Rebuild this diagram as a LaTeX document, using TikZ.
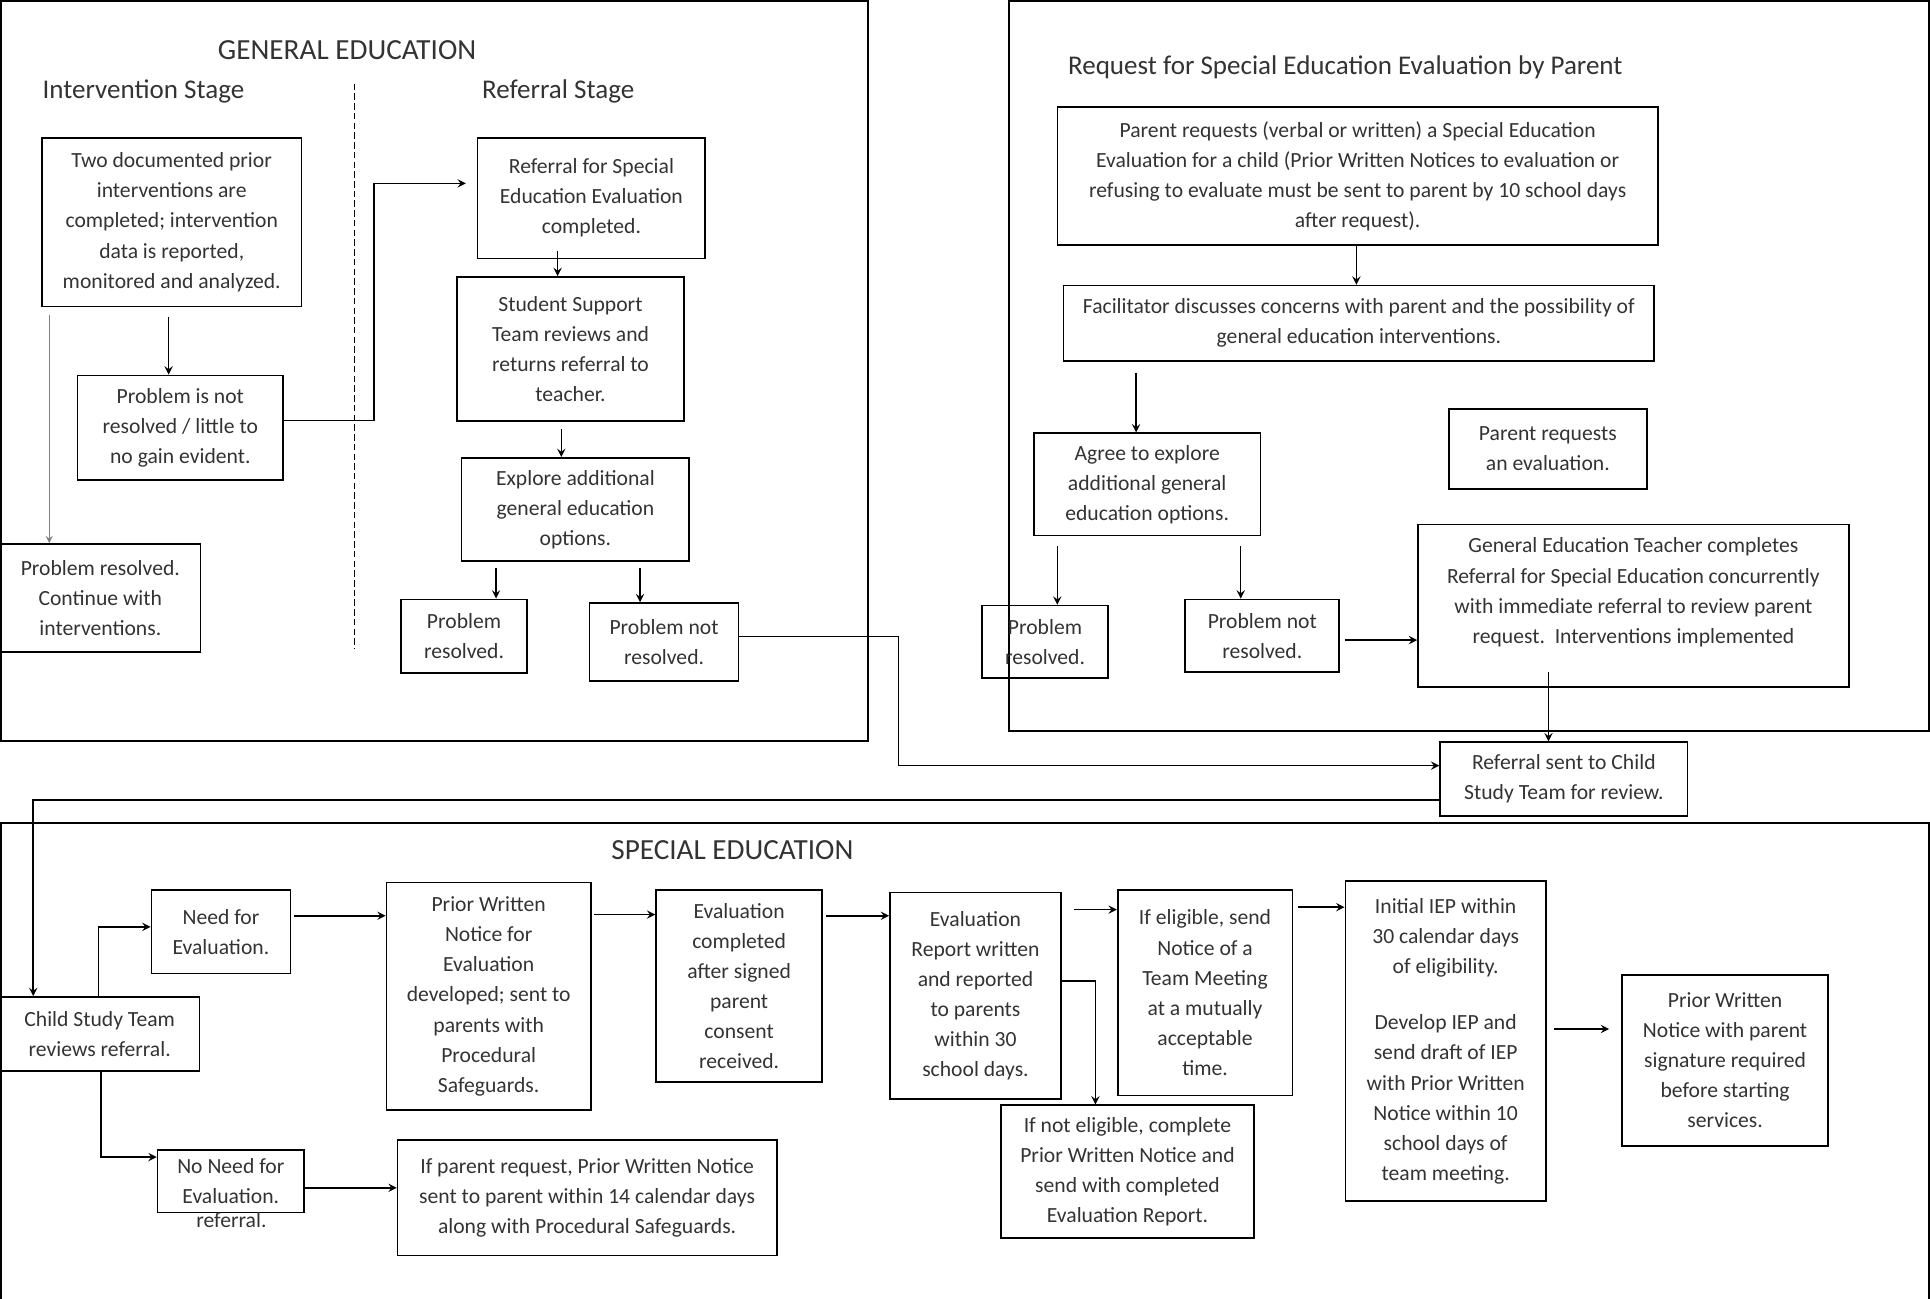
\documentclass[tikz,border=0pt]{standalone}
\usepackage{fontspec}
\setmainfont{Carlito}
\begin{document}
\begin{tikzpicture}[>=stealth,x=0.02cm,y=-0.02cm,line width=0.7pt,
  box/.style={draw,line width=0.8pt,align=center,inner sep=0pt,text=black!80,font=\fontsize{10}{13.9}\selectfont},
  head/.style={text=black!80,font=\fontsize{13.5}{16}\selectfont},
  subhead/.style={text=black!80,font=\fontsize{12.5}{15}\selectfont}]
\useasboundingbox (0,0) rectangle (1568,1055);
\draw[line width=0.9pt] (0.7,0.7) rectangle (705,602);
\draw[line width=0.9pt] (820,0.7) rectangle (1567.3,594);
\draw[line width=0.9pt] (0.7,1055) -- (0.7,669) -- (1567.3,669) -- (1567.3,1055);
\draw[dash pattern=on 3pt off 1.5pt] (288,68) -- (288,527);
\node[head] (gentitle) at (282,41) {GENERAL EDUCATION};
\node[subhead] (intstage) at (116.5,74) {Intervention Stage};
\node[subhead] (refstage) at (453.5,74) {Referral Stage};
\node[subhead] (partitle) at (1093,55) {Request for Special Education Evaluation by Parent};
\node[head] (spectitle) at (595,691) {SPECIAL EDUCATION};
\node[box,minimum width=4.22cm,minimum height=2.74cm] (two) at (139.5,180.5) {Two documented prior\\interventions are\\completed; intervention\\data is reported,\\monitored and analyzed.};
\node[box,minimum width=3.34cm,minimum height=1.70cm] (notres) at (146.5,347.5) {Problem is not\\resolved / little to\\no gain evident.};
\node[box,minimum width=3.26cm,minimum height=1.76cm] (contres) at (81.5,486) {Problem resolved.\\Continue with\\interventions.};
\node[box,minimum width=3.70cm,minimum height=1.96cm] (refse) at (480.5,161) {Referral for Special\\Education Evaluation\\completed.};
\node[box,minimum width=3.70cm,minimum height=2.34cm] (sst) at (463.5,283.5) {Student Support\\Team reviews and\\returns referral to\\teacher.};
\node[box,minimum width=3.70cm,minimum height=1.68cm] (explore) at (467.5,414) {Explore additional\\general education\\options.};
\node[box,minimum width=2.04cm,minimum height=1.20cm] (res1) at (377,517) {Problem\\resolved.};
\node[box,minimum width=2.42cm,minimum height=1.26cm] (notres1) at (539.5,521.5) {Problem not\\resolved.};
\node[box,minimum width=9.76cm,minimum height=2.24cm] (preq) at (1103,143) {Parent requests (verbal or written) a Special Education\\Evaluation for a child (Prior Written Notices to evaluation or\\refusing to evaluate must be sent to parent by 10 school days\\after request).};
\node[box,minimum width=9.60cm,minimum height=1.22cm] (facil) at (1104,262.5) {Facilitator discusses concerns with parent and the possibility of\\general education interventions.};
\node[box,minimum width=3.68cm,minimum height=1.66cm] (agree) at (932,393.5) {Agree to explore\\additional general\\education options.};
\node[box,minimum width=2.04cm,minimum height=1.18cm] (res2) at (849,521.5) {Problem\\resolved.};
\node[box,minimum width=2.50cm,minimum height=1.18cm] (notres2) at (1025.5,516.5) {Problem not\\resolved.};
\node[box,minimum width=3.22cm,minimum height=1.30cm] (parreq) at (1257.5,364.5) {Parent requests\\an evaluation.};
\node[box,minimum width=7.00cm,minimum height=2.64cm] (gened) at (1327,492) {General Education Teacher completes\\Referral for Special Education concurrently\\with immediate referral to review parent\\request.\ \ Interventions implemented\\\mbox{}};
\node[box,minimum width=4.02cm,minimum height=1.20cm] (csref) at (1270.5,633) {Referral sent to Child\\Study Team for review.};
\node[box,minimum width=3.24cm,minimum height=1.20cm] (cst) at (81,840) {Child Study Team\\reviews referral.};
\node[box,minimum width=2.26cm,minimum height=1.36cm] (need) at (179.5,757) {Need for\\Evaluation.};
\node[box,minimum width=3.32cm,minimum height=3.70cm] (pwn) at (397,809.5) {Prior Written\\Notice for\\Evaluation\\developed; sent to\\parents with\\Procedural\\Safeguards.};
\node[box,minimum width=2.70cm,minimum height=3.12cm] (evc) at (600.5,801) {Evaluation\\completed\\after signed\\parent\\consent\\received.};
\node[box,minimum width=2.78cm,minimum height=3.36cm] (evr) at (792.5,809) {Evaluation\\Report written\\and reported\\to parents\\within 30\\school days.};
\node[box,minimum width=2.84cm,minimum height=3.34cm] (elig) at (979,806.5) {If eligible, send\\Notice of a\\Team Meeting\\at a mutually\\acceptable\\time.};
\node[box,minimum width=3.26cm,minimum height=5.20cm] (iep) at (1174.5,846) {Initial IEP within\\30 calendar days\\of eligibility.\\[12pt]Develop IEP and\\send draft of IEP\\with Prior Written\\Notice within 10\\school days of\\team meeting.};
\node[box,minimum width=3.34cm,minimum height=2.78cm] (pwn2) at (1401.5,861.5) {Prior Written\\Notice with parent\\signature required\\before starting\\services.};
\node[box,minimum width=2.38cm,minimum height=1.02cm] (noneed) at (187.5,959.5) {No Need for\\Evaluation.};
\node[text=black!80,font=\fontsize{10}{13.9}\selectfont] (noneedref) at (188,991) {referral.};
\node[box,minimum width=6.16cm,minimum height=1.88cm] (ifpar) at (477,973) {If parent request, Prior Written Notice\\sent to parent within 14 calendar days\\along with Procedural Safeguards.};
\node[box,minimum width=4.12cm,minimum height=2.16cm] (notelig) at (916,952) {If not eligible, complete\\Prior Written Notice and\\send with completed\\Evaluation Report.};
\draw[->] ([yshift=-0.16cm]two.south -| 137,0) -- (notres.north -| 137,0);
\draw[->,gray,line width=0.5pt] ([yshift=-0.12cm]two.south -| 40,0) -- (contres.north -| 40,0);
\draw[->,shorten >=5pt] ([yshift=0.12cm]notres.east) -| (304,149) -- (refse.west |- 0,149);
\draw[->] ([yshift=0.14cm]refse.south -| 453,0) -- (sst.north -| 453,0);
\draw[->] ([yshift=-0.12cm]sst.south -| 456,0) -- (explore.north -| 456,0);
\draw[->] ([yshift=-0.1cm]explore.south -| 403,0) -- (res1.north -| 403,0);
\draw[->] ([yshift=-0.1cm]explore.south -| 520,0) -- (notres1.north -| 520,0);
\draw[->] (notres1.east |- 0,517) -| (730,622) -- (csref.west |- 0,622);
\draw[->] (preq.south -| 1102,0) -- (facil.north -| 1102,0);
\draw[->] ([yshift=-0.18cm]facil.south -| 923,0) -- (agree.north -| 923,0);
\draw[->] ([yshift=-0.16cm]agree.south -| 859,0) -- (res2.north -| 859,0);
\draw[->] ([yshift=-0.16cm]agree.south -| 1008,0) -- (notres2.north -| 1008,0);
\draw[->] ([xshift=0.08cm]notres2.east |- 0,520) -- (gened.west |- 0,520);
\draw[->] ([yshift=0.26cm]gened.south -| 1258,0) -- (csref.north -| 1258,0);
\draw[->] (csref.west |- 0,650) -| (cst.north -| 27,0);
\draw[->] (cst.north -| 80,0) |- (need.west |- 0,753);
\draw[->] (cst.south -| 82,0) |- (noneed.west |- 0,940);
\draw[->] ([xshift=0.04cm]need.east |- 0,744) -- (pwn.west |- 0,744);
\draw[->] ([xshift=0.04cm]pwn.east |- 0,743) -- (evc.west |- 0,743);
\draw[->] ([xshift=0.04cm]evc.east |- 0,744) -- (evr.west |- 0,744);
\draw[->] ([xshift=0.2cm]evr.east |- 0,739) -- (elig.west |- 0,739);
\draw[->] ([xshift=0.08cm]elig.east |- 0,737) -- (iep.west |- 0,737);
\draw[->] (evr.east |- 0,797) -| (notelig.north -| 890,0);
\draw[->] ([xshift=0.12cm]iep.east |- 0,836) -- ([xshift=-0.2cm]pwn2.west |- 0,836);
\draw[->] (noneed.east |- 0,965) -- (ifpar.west |- 0,965);
\end{tikzpicture}
\end{document}
